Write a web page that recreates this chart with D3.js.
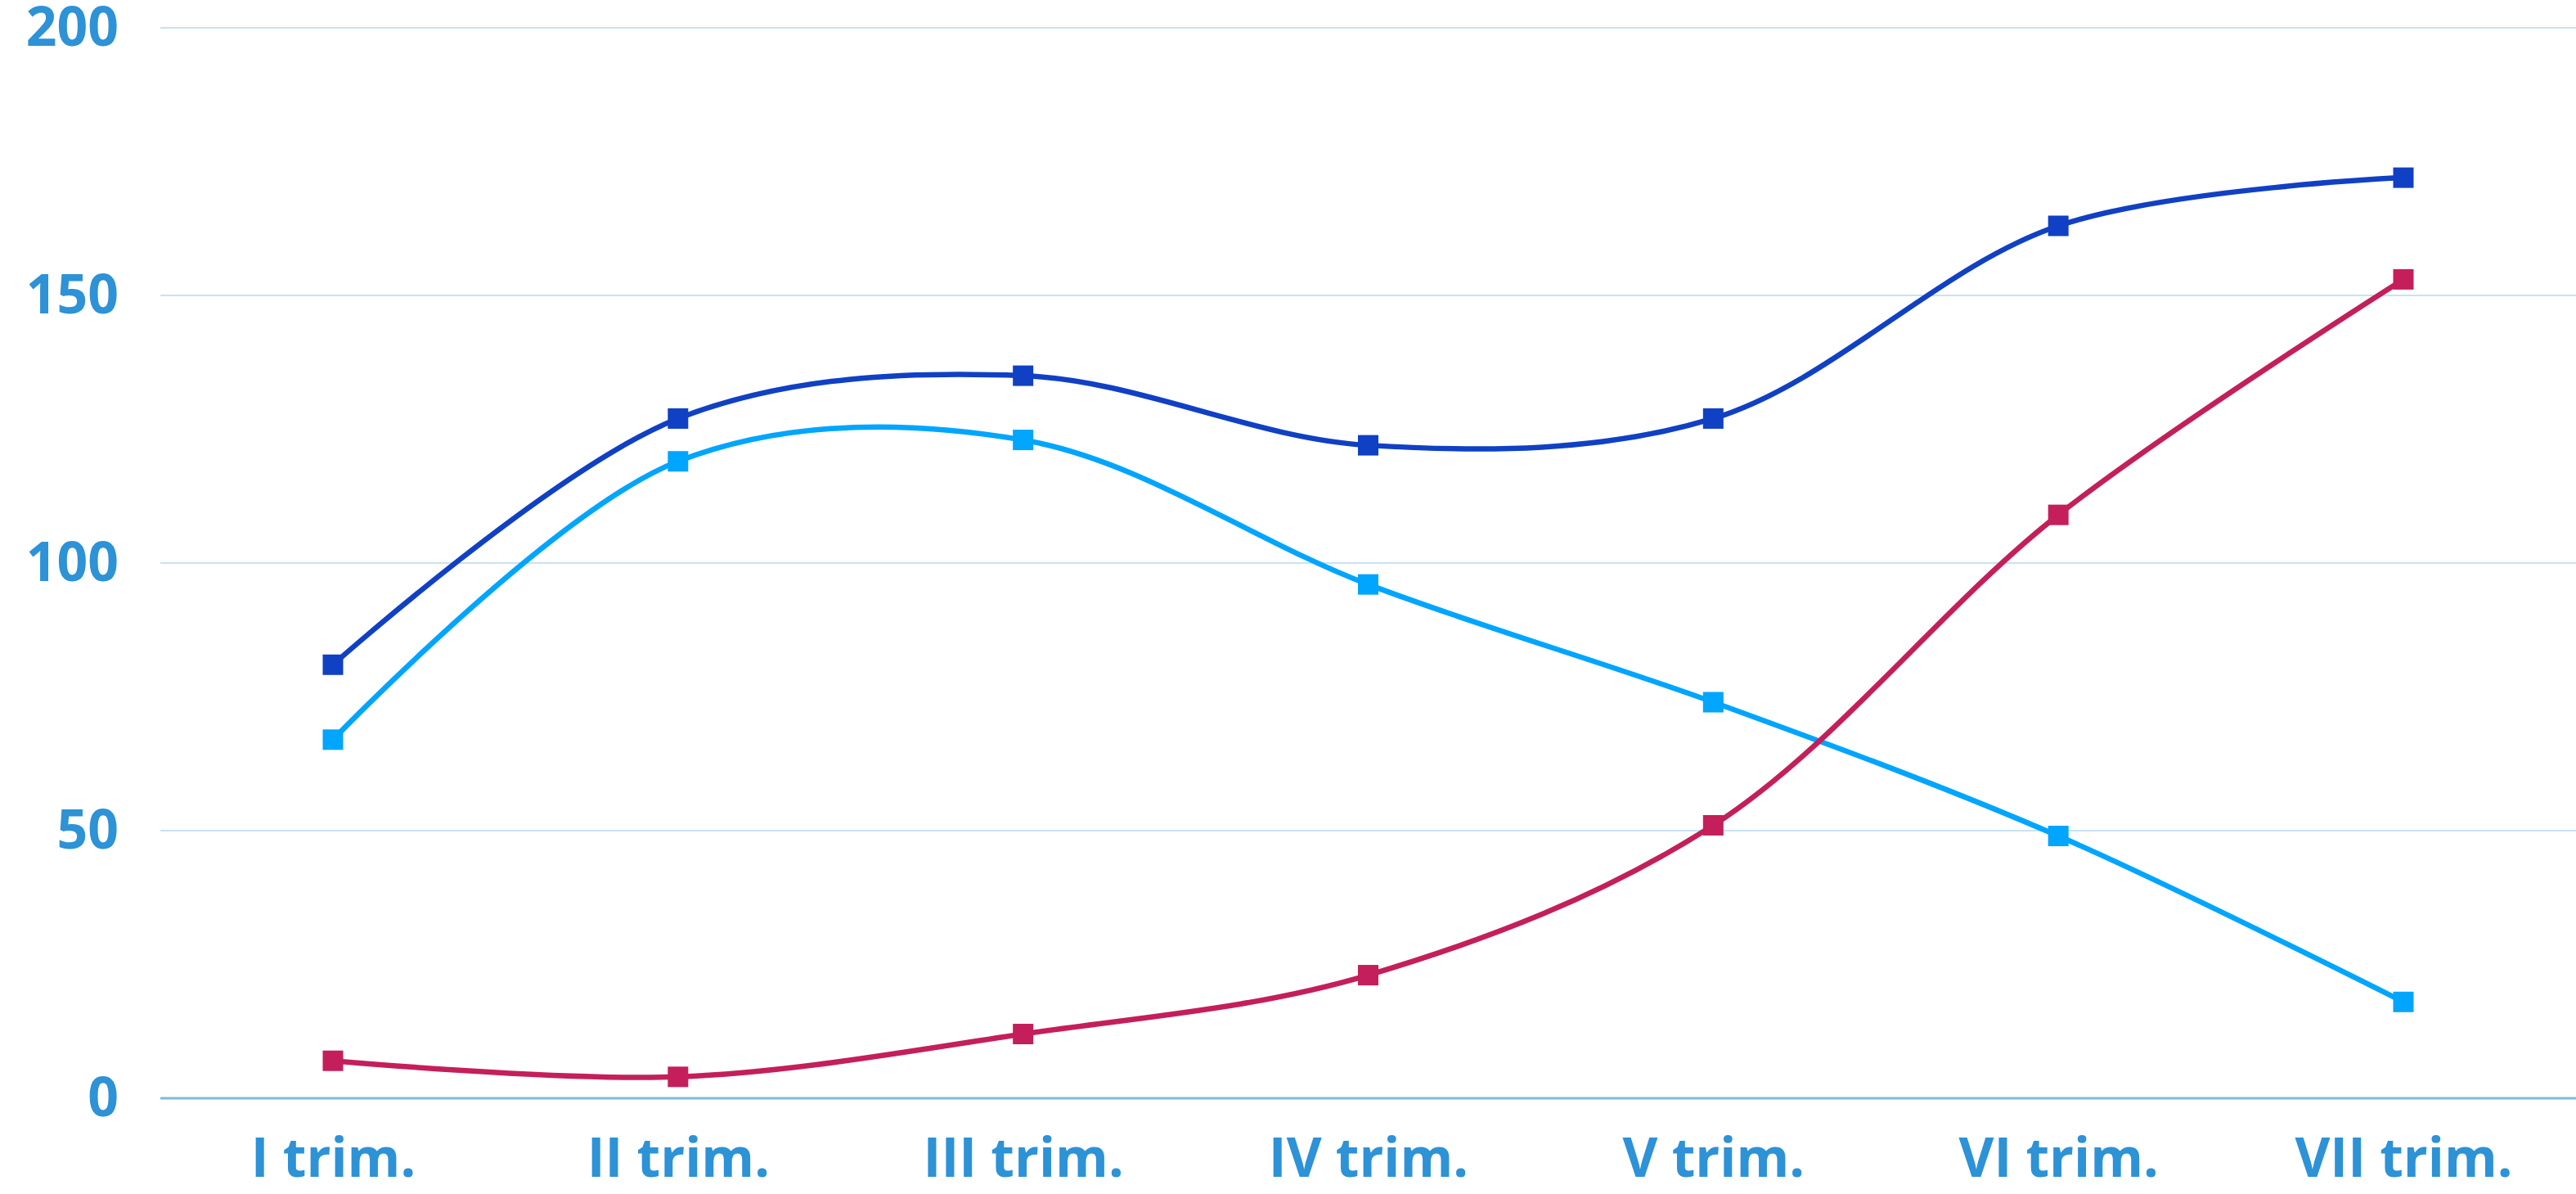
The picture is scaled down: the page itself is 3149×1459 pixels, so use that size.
<!DOCTYPE html>
<html>
  <head>
    <meta charset="utf-8">
    <script type="text/javascript" src="https://cdn.jsdelivr.net/npm/d3@7"></script>
    <style>
      html, body { margin: 0; padding: 0; background: #fff; }
      text { font-family: "Open Sans", sans-serif; font-weight: bold; }
    </style>
  </head>
  <body>
    <script type="text/javascript">
    // chart data
    var categories = ["I trim.", "II trim.", "III trim.", "IV trim.", "V trim.", "VI trim.", "VII trim."];
    var seriesDark  = [81, 127, 135, 122, 127, 163, 172];
    var seriesLight = [67, 119, 123, 96, 74, 49, 18];
    var seriesRed   = [7, 4, 12, 23, 51, 109, 153];
    var yTicks = [0, 50, 100, 150, 200];

    var series = [
        {"values": seriesLight, "color": "#00a5fe"},
        {"values": seriesRed,   "color": "#c41f5a"},
        {"values": seriesDark,  "color": "#1040c4"}
    ];

    var width = 3149, height = 1459;

    var svg = d3.select('body').append('svg')
                .attr('width', width)
                .attr('height', height);

    var x = d3.scalePoint()
              .domain(categories)
              .range([407, 2938]);

    var y = d3.scaleLinear()
              .domain([0, 200])
              .range([1342, 34]);

    // grid lines
    svg.selectAll('line.grid')
        .data(yTicks)
        .enter()
        .append('line')
        .attr('class', 'grid')
        .attr('x1', 196)
        .attr('x2', width)
        .attr('y1', function(d) { return y(d); })
        .attr('y2', function(d) { return y(d); })
        .style('stroke', function(d) { return d === 0 ? '#7fb9e0' : '#c6e3f4'; })
        .style('stroke-width', function(d) { return d === 0 ? 3 : 2; });

    // y labels
    var yAxis = d3.axisLeft(y).tickValues(yTicks).tickSize(0).tickPadding(0);
    var gy = svg.append('g')
        .attr('transform', 'translate(145,0)')
        .call(yAxis);
    gy.select('.domain').remove();
    gy.selectAll('text')
        .attr('fill', '#2d92d6')
        .style('font-size', '66px');

    // x labels
    var xAxis = d3.axisBottom(x).tickSize(0).tickPadding(0);
    var gx = svg.append('g')
        .attr('transform', 'translate(0,1438)')
        .call(xAxis);
    gx.select('.domain').remove();
    gx.selectAll('text')
        .attr('dy', 0)
        .attr('y', 0)
        .attr('fill', '#2d92d6')
        .style('font-size', '66px');

    var line = d3.line()
        .x(function(d, i) { return x(categories[i]); })
        .y(function(d) { return y(d); })
        .curve(d3.curveCatmullRom.alpha(0.5));

    series.forEach(function(s) {
        svg.append('path')
            .datum(s.values)
            .attr('d', line)
            .style('fill', 'none')
            .style('stroke', s.color)
            .style('stroke-width', 6.5);
    });

    var size = 25;
    series.forEach(function(s) {
        svg.append('g').selectAll('rect')
            .data(s.values)
            .enter()
            .append('rect')
            .attr('x', function(d, i) { return x(categories[i]) - size / 2; })
            .attr('y', function(d) { return y(d) - size / 2; })
            .attr('width', size)
            .attr('height', size)
            .style('fill', s.color);
    });
    </script>
  </body>
</html>
